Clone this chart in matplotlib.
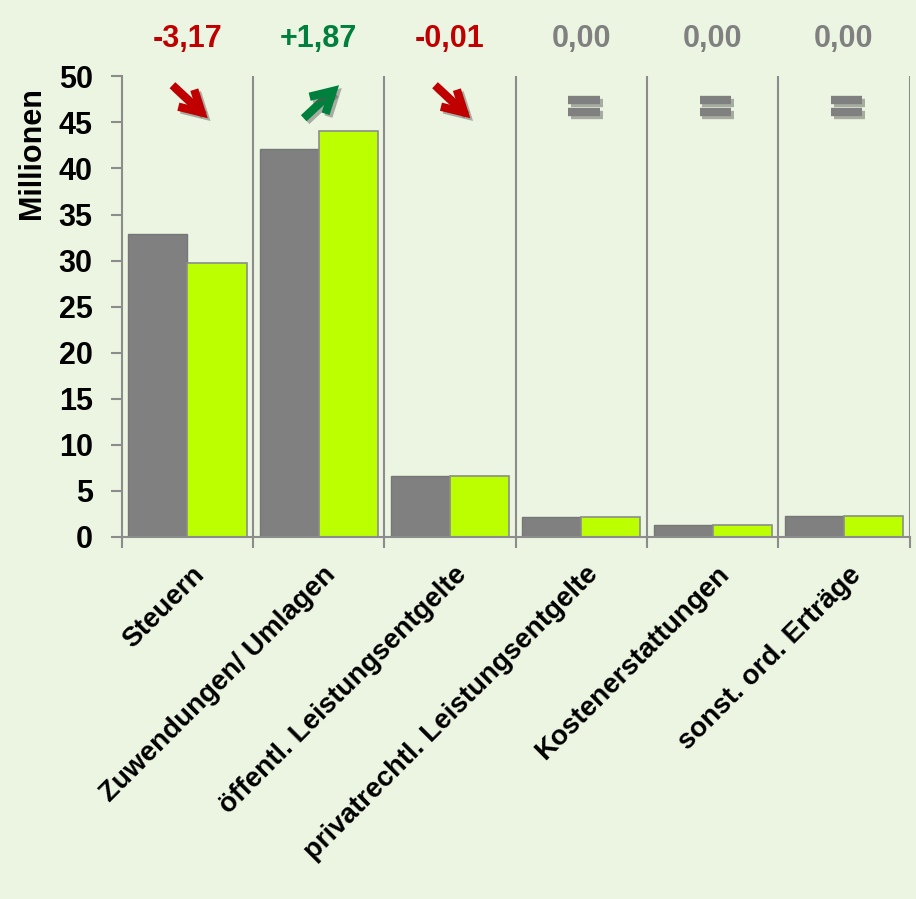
import numpy as np
import matplotlib.pyplot as plt
import matplotlib.patheffects as pe
from matplotlib.transforms import blended_transform_factory

plt.rcParams['font.family'] = ['Liberation Sans', 'DejaVu Sans']
plt.rcParams['font.weight'] = 'bold'

categories = ["Steuern", "Zuwendungen/ Umlagen", "öffentl. Leistungsentgelte",
              "privatrechtl. Leistungsentgelte", "Kostenerstattungen", "sonst. ord. Erträge"]
vorjahr = [32.87, 42.15, 6.62, 2.12, 1.24, 2.30]
planjahr = [29.70, 44.02, 6.61, 2.12, 1.24, 2.30]

bg = "#EBF5E1"
gray = "#808080"
lime = "#BBFF00"
red = "#C00000"
dgreen = "#00803C"
axcol = "#8C8C8C"

fig = plt.figure(figsize=(9.16, 8.99), dpi=100, facecolor=bg)
ax = fig.add_axes([0.133, 0.403, 0.860, 0.512], facecolor=bg)

x = np.arange(len(categories))
w = 0.45
ax.bar(x - w / 2, vorjahr, w, color=gray, edgecolor="#767676", linewidth=1)
ax.bar(x + w / 2, planjahr, w, color=lime, edgecolor=axcol, linewidth=1.2)

ax.set_xlim(-0.5, len(categories) - 0.5)
ax.set_ylim(0, 50)
ax.set_yticks(range(0, 51, 5))
ax.tick_params(axis="y", labelsize=22, length=8, width=1.5, color=axcol, pad=13)
ax.text(-0.114, 0.833, "Millionen", transform=ax.transAxes, rotation=90,
        ha="center", va="center", fontsize=22, fontweight="bold")

bounds = np.arange(len(categories) + 1) - 0.5
ax.set_xticks(bounds)
ax.set_xticklabels([])
ax.tick_params(axis="x", length=8, width=1.5, color=axcol)
for b in bounds[1:]:
    ax.axvline(b, color=axcol, lw=1.5, zorder=0)

for i, lab in enumerate(categories):
    ax.text(i + 0.03, -2.7, lab, rotation=45, ha="right", va="top",
            fontsize=20, fontweight="bold", rotation_mode="anchor")

for s in ["top", "right"]:
    ax.spines[s].set_visible(False)
for s in ["left", "bottom"]:
    ax.spines[s].set_color(axcol)
    ax.spines[s].set_linewidth(1.5)

trans = blended_transform_factory(ax.transData, ax.transAxes)
shadow = [pe.SimpleLineShadow(offset=(2, -2), alpha=0.45, shadow_color="#555555"), pe.Normal()]
for i, (a, b) in enumerate(zip(vorjahr, planjahr)):
    d = round(b - a, 2)
    if d > 0:
        col, txt = dgreen, "+" + f"{d:.2f}".replace(".", ",")
    elif d < 0:
        col, txt = red, f"{d:.2f}".replace(".", ",")
    else:
        col, txt = gray, f"{abs(d):.2f}".replace(".", ",")
    ax.text(i, 1.082, txt, transform=trans, ha="center", va="center",
            fontsize=22, fontweight="bold", color=col)
    if d != 0:
        y0, y1 = (0.985, 0.905) if d < 0 else (0.905, 0.985)
        ax.annotate("", xy=(i + 0.17, y1), xytext=(i - 0.13, y0),
                    xycoords=trans, textcoords=trans,
                    arrowprops=dict(arrowstyle="->,head_width=0.28,head_length=0.5",
                                    color=col, lw=6, mutation_scale=30,
                                    capstyle="butt", joinstyle="miter",
                                    path_effects=shadow))
    else:
        for yy in (0.949, 0.922):
            ax.plot([i - 0.1, i + 0.14], [yy, yy], transform=trans, color=gray,
                    lw=6, solid_capstyle="butt", path_effects=shadow, clip_on=False)

fig.savefig("out.png", dpi=100, facecolor=bg)
